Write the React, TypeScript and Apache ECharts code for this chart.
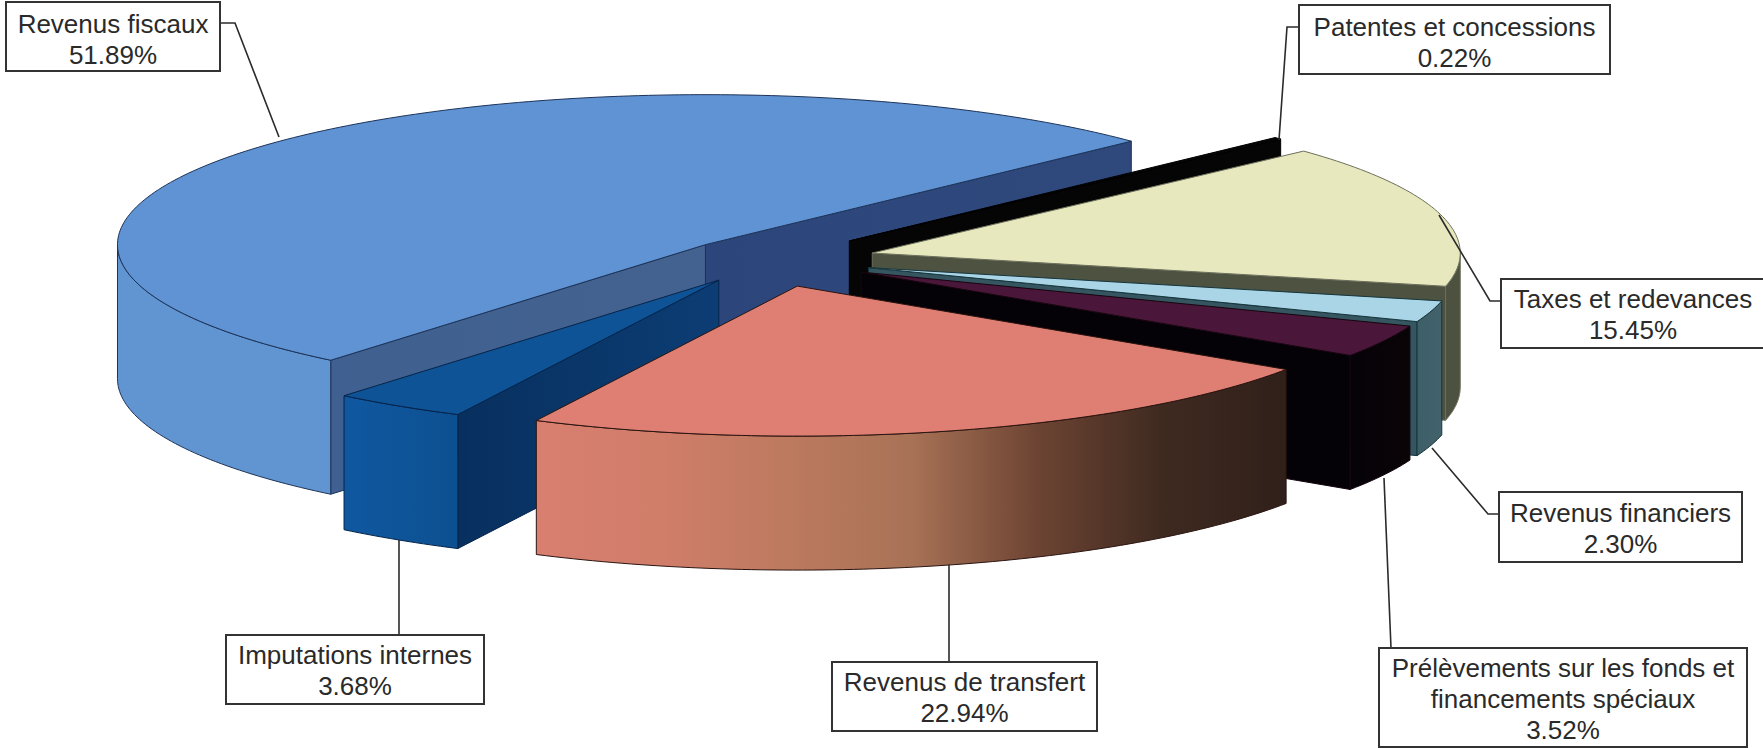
import React, { useEffect, useRef } from "react";
import * as echarts from "echarts";

// Data, in clockwise order from the first slice
const categories = [
  "Patentes et concessions",
  "Taxes et redevances",
  "Revenus financiers",
  "Prélèvements sur les fonds et\nfinancements spéciaux",
  "Revenus de transfert",
  "Imputations internes",
  "Revenus fiscaux",
];
const shares = [0.22, 15.45, 2.3, 3.52, 22.94, 3.68, 51.89];

// Pull-out of each slice, as a fraction of the radius
const explode = [0.185, 0.18, 0.175, 0.175, 0.18, 0.16, 0.15];
// Back-to-front drawing order (indexes into categories)
const drawOrder = [6, 0, 1, 2, 3, 5, 4];

// 3D pie geometry
const CENTER = [770, 260];
const RX = 588;
const RY = 150;
const DEPTH = 134;
const START_ANGLE = 46.4;

// Styles per slice
const topColors = ["#060606", "#e8e8bf", "#a9d5e6", "#4a1639", "#df7f73", "#0e5396", "#5f93d4"];
const edgeColors = ["#000000", "#6d705c", "#16353c", "#16060f", "#2a1410", "#06244a", "#1d3358"];
const startWall = ["#050505", "#4e5342", "#3a5a62", "#060308", "#3a1a12", ["#08305f", "#0c3d74"], ["#3f6090", "#44628f"]];
const endWall = ["#050505", "#4d5241", "#355660", "#050207", "#3a1a12", "#08305f", ["#2c467c", "#30497c"]];
const outerWall: (string | string[])[] = [
  "#050505",
  "#4d5140",
  ["#3d5f68", "#42626c"],
  ["#050208", "#0a0406"],
  ["#d97f70", "#d07d6a", "#bd7a5f", "#a87256", "#6d4433", "#3f2a20", "#30201a"],
  ["#0f58a0", "#0d5090"],
  "#6195d2",
];

// Callout boxes: x, y, width, height; text nudge; leader polylines
const boxes = [
  [1299, 5, 311, 69],
  [1501, 279, 264, 69],
  [1499, 492, 243, 70],
  [1379, 648, 368, 99],
  [832, 662, 265, 69],
  [226, 635, 258, 69],
  [6, 2, 214, 69],
];
const textNudge = [3, 1, 1, 1, 1, 1, 3];
const leaders = [
  [[1299, 27], [1287, 27], [1279, 140]],
  [[1501, 301], [1490, 301], [1439, 215]],
  [[1499, 514], [1488, 514], [1432, 448]],
  [[1391, 648], [1384, 478]],
  [[949, 662], [949, 565]],
  [[399, 635], [399, 540]],
  [[220, 23], [235, 23], [279, 137]],
];

const rad = (d: number) => (d * Math.PI) / 180;
const total = shares.reduce((a, b) => a + b, 0);

function paint(c: string | string[]) {
  if (typeof c === "string") return c;
  return new echarts.graphic.LinearGradient(
    0, 0, 1, 0,
    c.map((color, i) => ({ offset: i / (c.length - 1), color }))
  );
}

function arc(apex: number[], from: number, to: number, dy = 0) {
  const n = Math.max(2, Math.ceil(Math.abs(to - from)));
  const pts: number[][] = [];
  for (let i = 0; i <= n; i++) {
    const t = rad(from + ((to - from) * i) / n);
    pts.push([apex[0] + RX * Math.sin(t), apex[1] - RY * Math.cos(t) + dy]);
  }
  return pts;
}

function renderSlice(_params: any, api: any) {
  const idx = api.value(0);
  const value = api.value(1);
  const order = drawOrder.indexOf(idx);
  const before = shares.slice(0, idx).reduce((a, b) => a + b, 0);
  const a0 = START_ANGLE + (before / total) * 360;
  const a1 = a0 + (value / total) * 360;
  const mid = rad((a0 + a1) / 2);
  const apex = [
    CENTER[0] + explode[idx] * RX * Math.sin(mid),
    CENTER[1] - explode[idx] * RY * Math.cos(mid),
  ];
  const edge = edgeColors[idx];
  const children: any[] = [];
  const add = (points: number[][], fill: any, k: number, lw = 1) =>
    children.push({
      type: "polygon",
      z2: order * 10 + k,
      shape: { points },
      style: { fill, stroke: edge, lineWidth: lw, lineJoin: "round" },
    });
  const radialWall = (angle: number, fill: any, k: number) => {
    const o = arc(apex, angle, angle, 0)[0];
    add(
      [apex, o, [o[0], o[1] + DEPTH], [apex[0], apex[1] + DEPTH]],
      paint(fill),
      k
    );
  };
  if (Math.sin(rad(a0)) < 0) radialWall(a0, startWall[idx], 1);
  if (Math.sin(rad(a1)) > 0) radialWall(a1, endWall[idx], 2);

  // Outer wall: the part of the rim that faces the viewer
  const from = Math.max(a0, 90);
  const to = Math.min(a1, 270);
  if (to > from) {
    const upper = arc(apex, from, to);
    const lower = arc(apex, from, to, DEPTH).reverse();
    add(upper.concat(lower), paint(outerWall[idx]), 3);
  }
  // Top face
  add([apex, ...arc(apex, a0, a1)], topColors[idx], 4);
  return { type: "group", children };
}

export default function App() {
  const ref = useRef<HTMLDivElement>(null);
  useEffect(() => {
    document.body.style.margin = "0";
    document.body.style.overflow = "hidden";
    const chart = echarts.init(ref.current!, undefined, { renderer: "svg" });
    const graphics: any[] = [];
    categories.forEach((name, i) => {
      const [x, y, w, h] = boxes[i];
      graphics.push({
        type: "polyline",
        z: 10,
        shape: { points: leaders[i] },
        style: { stroke: "#2b2b2b", lineWidth: 1.6, fill: "none" },
      });
      graphics.push({
        type: "rect",
        z: 11,
        shape: { x, y, width: w, height: h },
        style: { fill: "#ffffff", stroke: "#333333", lineWidth: 2 },
      });
      graphics.push({
        type: "text",
        z: 12,
        x: x + w / 2,
        y: y + h / 2 + textNudge[i],
        style: {
          text: `${name}\n${shares[i].toFixed(2)}%`,
          font: '26px "Liberation Sans", Arial, sans-serif',
          lineHeight: 31,
          fill: "#2a2a2a",
          align: "center",
          verticalAlign: "middle",
        },
      });
    });
    chart.setOption({
      animation: false,
      backgroundColor: "#ffffff",
      series: [
        {
          type: "custom",
          coordinateSystem: "none",
          silent: true,
          renderItem: renderSlice,
          data: drawOrder.map((i) => [i, shares[i]]),
          dimensions: ["slice", "share"],
          encode: { value: 1 },
        },
      ],
      graphic: graphics,
    });
    return () => chart.dispose();
  }, []);
  return <div ref={ref} style={{ width: 1763, height: 748 }} />;
}
